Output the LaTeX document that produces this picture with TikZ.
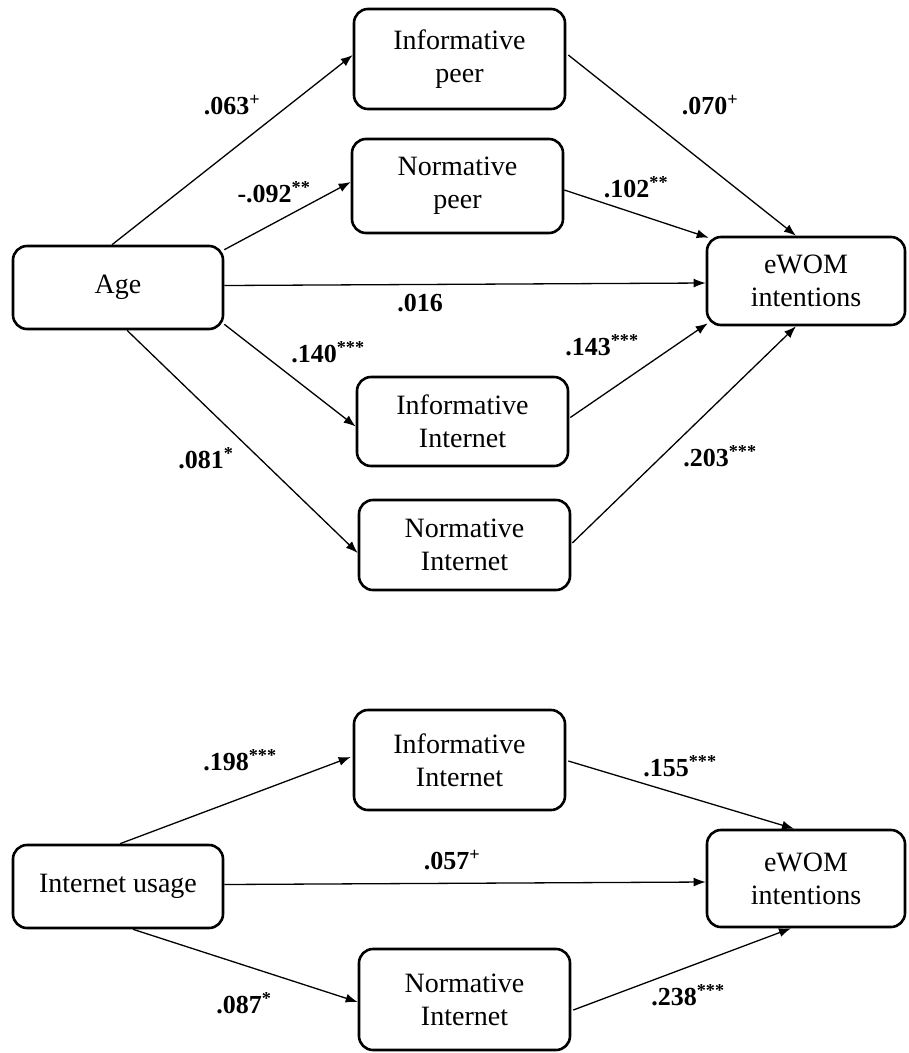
\documentclass[tikz,border=0pt]{standalone}
\usepackage{fontspec}
\setmainfont{Liberation Serif}
\usetikzlibrary{arrows.meta,calc}
\tikzset{
  box/.style={draw, line width=2.6pt, rounded corners=14pt, align=center,
    font=\fontsize{28}{33}\selectfont, inner sep=0pt},
  conn/.style={line width=1.3pt, -{Latex[length=12pt,width=9pt]}},
  lab/.style={font=\fontsize{26}{30}\selectfont\bfseries, inner sep=0pt}
}
\begin{document}
\begin{tikzpicture}[x=1pt,y=-1pt]
\useasboundingbox (0,0) rectangle (909,1053);
% top diagram
\node[box, minimum width=211, minimum height=100] (ip) at (459.5,59) {Informative\\peer};
\node[box, minimum width=211, minimum height=94] (np) at (457.5,186) {Normative\\peer};
\node[box, minimum width=210, minimum height=83] (age) at (118,287.5) {Age};
\node[box, minimum width=198, minimum height=88] (ew1) at (806,281) {eWOM\\intentions};
\node[box, minimum width=211, minimum height=89] (ii1) at (462.5,421.5) {Informative\\Internet};
\node[box, minimum width=211, minimum height=90] (ni1) at (464.5,545) {Normative\\Internet};
% bottom diagram
\node[box, minimum width=211, minimum height=100] (ii2) at (459.5,760) {Informative\\Internet};
\node[box, minimum width=210, minimum height=83] (iu) at (118,886.5) {Internet usage};
\node[box, minimum width=198, minimum height=97] (ew2) at (806,878.5) {eWOM\\intentions};
\node[box, minimum width=211, minimum height=101] (ni2) at (464.5,999.5) {Normative\\Internet};
% connectors top
\draw[conn] ($(age.north)+(-6,0)$) -- ($(ip.west)+(0,-4)$);
\draw[conn] ($(age.north east)+(0,5)$) -- ($(np.west)+(0,-4)$);
\draw[conn] ($(age.east)+(0,-2)$) -- ($(ew1.west)+(0,2)$);
\draw[conn] ($(age.south east)+(0,-6)$) -- ($(ii1.west)+(0,5)$);
\draw[conn] ($(age.south)+(9,0)$) -- ($(ni1.west)+(0,8)$);
\draw[conn] ($(ip.east)+(2,-4)$) -- ($(ew1.north)+(-10,0)$);
\draw[conn] ($(np.east)+(0,4)$) -- ($(ew1.north west)+(3,2)$);
\draw[conn] ($(ii1.east)+(1,-4)$) -- ($(ew1.south west)+(2,-3)$);
\draw[conn] ($(ni1.east)+(1,-2)$) -- ($(ew1.south)+(-10,0)$);
% connectors bottom
\draw[conn] ($(iu.north)+(2,0)$) -- ($(ii2.west)+(-2,-3)$);
\draw[conn] ($(iu.east)+(0,-2)$) -- ($(ew2.west)+(0,3.5)$);
\draw[conn] ($(iu.south)+(15,0)$) -- ($(ni2.west)+(0,2.5)$);
\draw[conn] ($(ii2.east)+(2,1)$) -- ($(ew2.north)+(-12,0)$);
\draw[conn] ($(ni2.east)+(2,10.5)$) -- ($(ew2.south)+(-15,0)$);
% labels top
\node[lab] (l1) at (232,105) {.063\textsuperscript{+}};
\node[lab] (l2) at (710,105) {.070\textsuperscript{+}};
\node[lab] (l3) at (274,192) {-.092\textsuperscript{**}};
\node[lab] (l4) at (636,187) {.102\textsuperscript{**}};
\node[lab] (l5) at (420,303) {.016};
\node[lab] (l6) at (328,352) {.140\textsuperscript{***}};
\node[lab] (l7) at (602,345) {.143\textsuperscript{***}};
\node[lab] (l8) at (206,458) {.081\textsuperscript{*}};
\node[lab] (l9) at (720,456) {.203\textsuperscript{***}};
% labels bottom
\node[lab] (l10) at (240,760) {.198\textsuperscript{***}};
\node[lab] (l11) at (680,766) {.155\textsuperscript{***}};
\node[lab] (l12) at (452,860) {.057\textsuperscript{+}};
\node[lab] (l13) at (244,1003) {.087\textsuperscript{*}};
\node[lab] (l14) at (688,995) {.238\textsuperscript{***}};
\end{tikzpicture}
\end{document}
